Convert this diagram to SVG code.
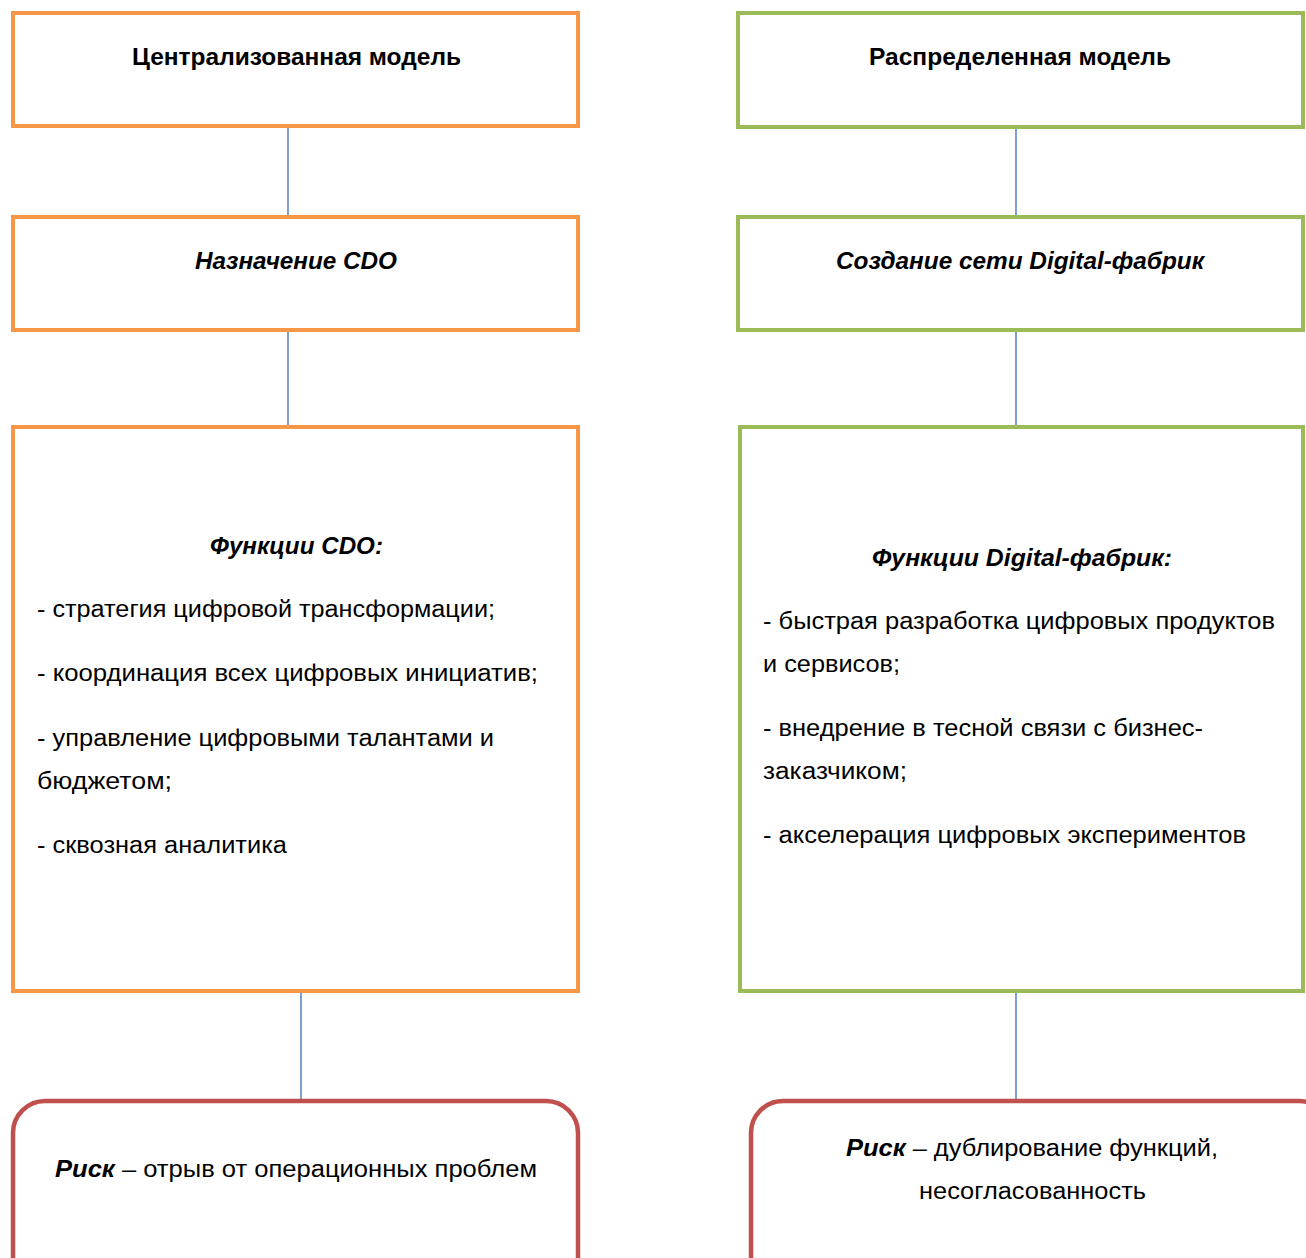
<svg xmlns="http://www.w3.org/2000/svg" width="1306" height="1258" viewBox="0 0 1306 1258">
<style>
.box{fill:#fff;stroke-width:4}
.or{stroke:#F79646}
.gr{stroke:#9BBB59}
.rd{stroke:#C0504D;stroke-width:4.5}
.conn line{stroke:#4F81BD;stroke-width:1.5}
text{font-family:"Liberation Sans",Arial,sans-serif;font-size:23px;fill:#000}
.b{font-weight:bold}
.bi{font-weight:bold;font-style:italic}
</style>
<rect width="1306" height="1258" fill="#fff"/>
<g id="connectors" class="conn">
<line x1="288" y1="126" x2="288" y2="217"/>
<line x1="288" y1="330" x2="288" y2="427"/>
<line x1="301" y1="991" x2="301" y2="1101"/>
<line x1="1016" y1="127" x2="1016" y2="217"/>
<line x1="1016" y1="330" x2="1016" y2="427"/>
<line x1="1016" y1="991" x2="1016" y2="1101"/>
</g>
<g id="central">
<rect class="box or" x="13" y="13" width="565" height="113"/>
<text class="b" x="132" y="65" textLength="329" lengthAdjust="spacingAndGlyphs">Централизованная модель</text>
</g>
<g id="cdo">
<rect class="box or" x="13" y="217" width="565" height="113"/>
<text class="bi" x="195" y="269" textLength="202" lengthAdjust="spacingAndGlyphs">Назначение CDO</text>
</g>
<g id="cdo-functions">
<rect class="box or" x="13" y="427" width="565" height="564"/>
<text class="bi" x="210" y="554" textLength="173" lengthAdjust="spacingAndGlyphs">Функции CDO:</text>
<text x="37" y="617" textLength="458" lengthAdjust="spacingAndGlyphs">- стратегия цифровой трансформации;</text>
<text x="37" y="681" textLength="501" lengthAdjust="spacingAndGlyphs">- координация всех цифровых инициатив;</text>
<text x="37" y="746" textLength="457" lengthAdjust="spacingAndGlyphs">- управление цифровыми талантами и</text>
<text x="37" y="789" textLength="135" lengthAdjust="spacingAndGlyphs">бюджетом;</text>
<text x="37" y="853" textLength="250" lengthAdjust="spacingAndGlyphs">- сквозная аналитика</text>
</g>
<g id="central-risk">
<rect class="box rd" x="13" y="1101" width="565" height="190" rx="32"/>
<text x="55" y="1177" textLength="482" lengthAdjust="spacingAndGlyphs"><tspan class="bi">Риск</tspan> – отрыв от операционных проблем</text>
</g>
<g id="distributed">
<rect class="box gr" x="738" y="13" width="565" height="114"/>
<text class="b" x="869" y="65" textLength="302" lengthAdjust="spacingAndGlyphs">Распределенная модель</text>
</g>
<g id="network">
<rect class="box gr" x="738" y="217" width="565" height="113"/>
<text class="bi" x="836" y="269" textLength="368" lengthAdjust="spacingAndGlyphs">Создание сети Digital-фабрик</text>
</g>
<g id="factory-functions">
<rect class="box gr" x="740" y="427" width="563" height="564"/>
<text class="bi" x="872" y="566" textLength="300" lengthAdjust="spacingAndGlyphs">Функции Digital-фабрик:</text>
<text x="763" y="629" textLength="512" lengthAdjust="spacingAndGlyphs">- быстрая разработка цифровых продуктов</text>
<text x="763" y="672" textLength="137" lengthAdjust="spacingAndGlyphs">и сервисов;</text>
<text x="763" y="736" textLength="440" lengthAdjust="spacingAndGlyphs">- внедрение в тесной связи с бизнес-</text>
<text x="763" y="779" textLength="144" lengthAdjust="spacingAndGlyphs">заказчиком;</text>
<text x="763" y="843" textLength="483" lengthAdjust="spacingAndGlyphs">- акселерация цифровых экспериментов</text>
</g>
<g id="distributed-risk">
<rect class="box rd" x="751" y="1101" width="580" height="190" rx="32"/>
<text x="846" y="1156" textLength="372" lengthAdjust="spacingAndGlyphs"><tspan class="bi">Риск</tspan> – дублирование функций,</text>
<text x="919" y="1199" textLength="227" lengthAdjust="spacingAndGlyphs">несогласованность</text>
</g>
</svg>
